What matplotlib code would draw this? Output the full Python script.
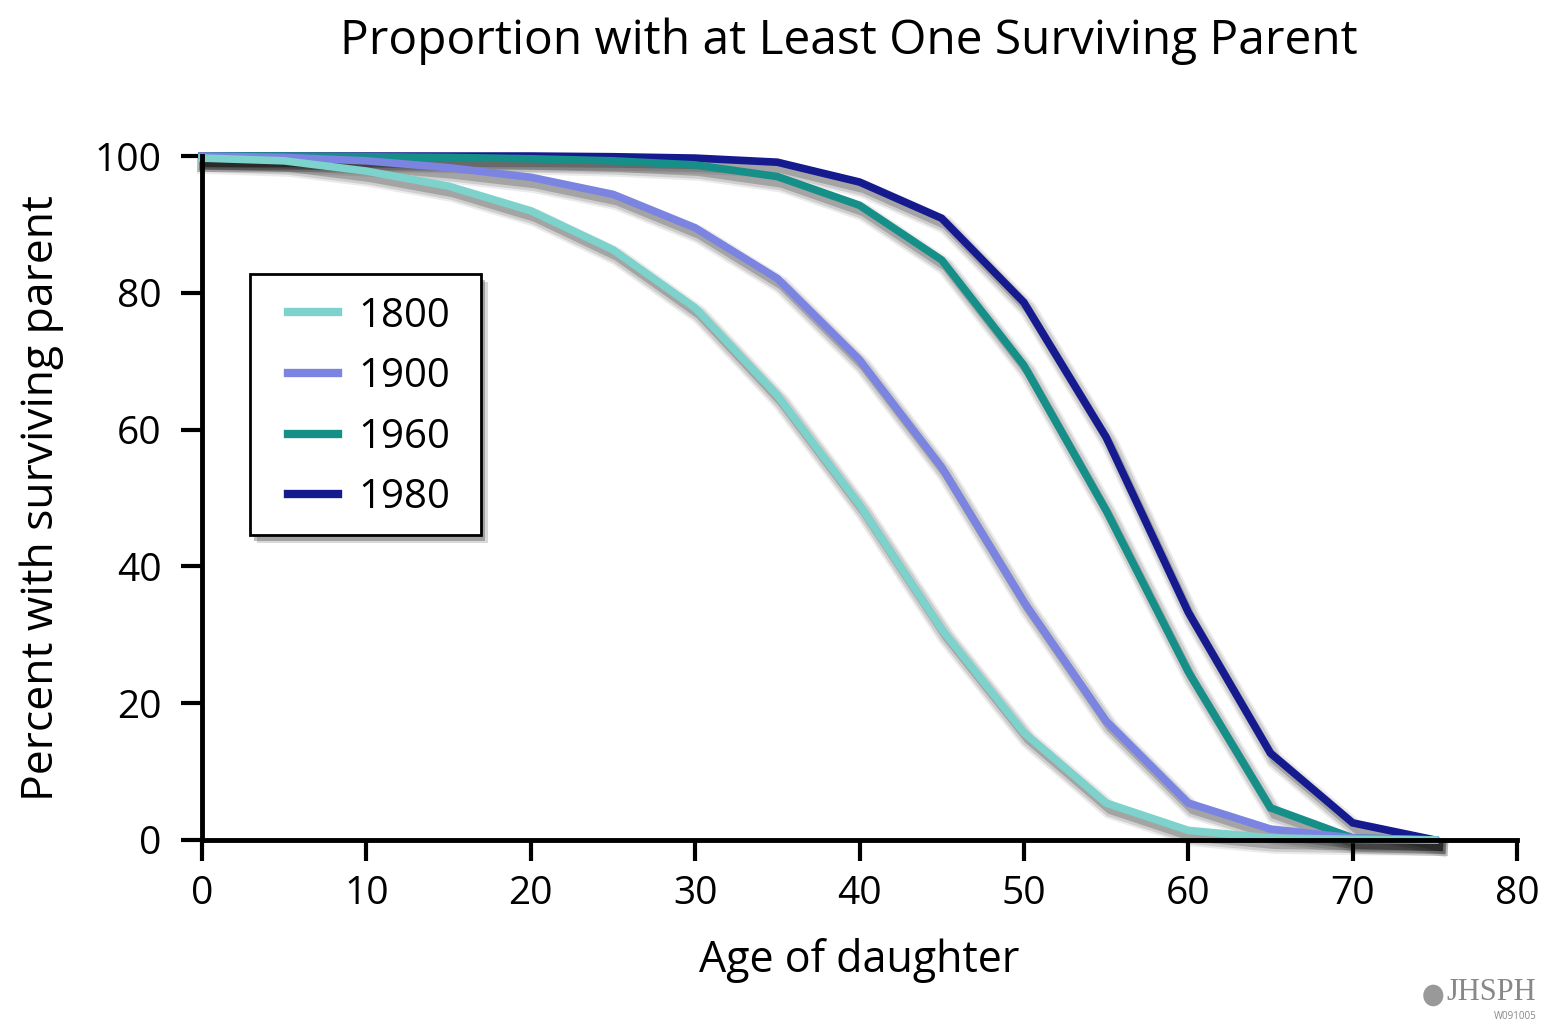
#
# Proportion with at least one surviving parent
#

import numpy as np
import matplotlib.pyplot as plt
import matplotlib.patheffects as pe
from matplotlib.patches import Ellipse, Rectangle

# Data (age of daughter, percent)
age = [0, 5, 10, 15, 20, 25, 30, 35, 40, 45, 50, 55, 60, 65, 70, 75]
p_1800 = [99.7, 99.3, 97.8, 95.6, 92.0, 86.3, 77.8, 65.0, 49.0, 30.8, 15.7, 5.4, 1.4, 0.3, 0.1, 0.0]
p_1900 = [100.0, 99.8, 99.3, 98.3, 96.9, 94.4, 89.5, 82.1, 70.2, 54.5, 34.8, 17.4, 5.4, 1.6, 0.3, 0.0]
p_1960 = [100.0, 100.0, 99.9, 99.8, 99.6, 99.3, 98.7, 97.0, 92.8, 84.8, 69.4, 48.2, 24.6, 4.7, 0.3, 0.0]
p_1980 = [100.0, 100.0, 100.0, 100.0, 100.0, 99.9, 99.7, 99.1, 96.2, 90.9, 78.6, 58.9, 33.3, 12.7, 2.5, 0.0]

years = ["1800", "1900", "1960", "1980"]
colors = ["#7dd3cc", "#7b84e0", "#168f89", "#161a8f"]

plt.rcParams['font.family'] = ['Open Sans', 'DejaVu Sans']

fig = plt.figure(figsize=(15.47, 10.30), dpi=100)
ax = fig.add_axes([0.1306, 0.1845, 0.85, 0.664])

# soft drop shadow: a few wide, faint copies offset down-right
shadow = [pe.SimpleLineShadow(offset=(3, -5), shadow_color='k', alpha=0.08, linewidth=13),
          pe.SimpleLineShadow(offset=(3, -5), shadow_color='k', alpha=0.12, linewidth=10),
          pe.SimpleLineShadow(offset=(3, -5), shadow_color='k', alpha=0.2, linewidth=6),
          pe.Normal()]

# draw 1980 first so the lighter lines end up on top near zero
for vals, lab, col in reversed(list(zip([p_1800, p_1900, p_1960, p_1980], years, colors))):
    ax.plot(age, vals, color=col, lw=5.5, label=lab, path_effects=shadow,
            solid_joinstyle='miter', clip_on=False)

ax.set_xlim(0, 80)
ax.set_ylim(0, 100)
ax.set_xticks(np.arange(0, 81, 10))
ax.set_yticks(np.arange(0, 101, 20))
ax.tick_params(axis='both', labelsize=28, length=15, width=3, direction='out')
ax.tick_params(axis='y', pad=14)
ax.tick_params(axis='x', pad=10)

for side in ['top', 'right']:
    ax.spines[side].set_visible(False)
for side in ['left', 'bottom']:
    ax.spines[side].set_linewidth(3.5)

ax.set_xlabel("Age of daughter", fontsize=31, labelpad=18)
ax.set_ylabel("Percent with surviving parent", fontsize=32, labelpad=22)
fig.suptitle("Proportion with at Least One Surviving Parent", fontsize=34.5, x=0.549, y=0.983)

# legend box drawn by hand (wider side padding than matplotlib gives)
box = Rectangle((0.0365, 0.4459), 0.1757, 0.3816, transform=ax.transAxes,
                facecolor='white', edgecolor='black', lw=2, zorder=4,
                path_effects=[pe.SimplePatchShadow(offset=(5, -6), shadow_rgbFace='k', alpha=0.15),
                              pe.SimplePatchShadow(offset=(3, -4), shadow_rgbFace='k', alpha=0.25),
                              pe.Normal()])
ax.add_patch(box)

handles, labels = ax.get_legend_handles_labels()
leg = ax.legend(handles[::-1], labels[::-1], loc='upper left', bbox_to_anchor=(0.0654, 0.7953),
                borderaxespad=0, borderpad=0, fontsize=29, frameon=False,
                handlelength=1.24, handletextpad=0.5, labelspacing=0.5)
leg.set_zorder(5)
for line in leg.get_lines():
    line.set_linewidth(6)
    line.set_path_effects([])

# watermark
fig.patches.append(Ellipse((0.9265, 0.0335), 0.013, 0.021, transform=fig.transFigure,
                           facecolor='#999999', edgecolor='none'))
fig.text(0.993, 0.022, "JHSPH", ha='right', va='bottom', fontsize=22, color='#888888',
         family='Liberation Serif')
fig.text(0.993, 0.008, "W091005", ha='right', va='bottom', fontsize=7, color='#888888')

plt.savefig("out.png", dpi=100)
